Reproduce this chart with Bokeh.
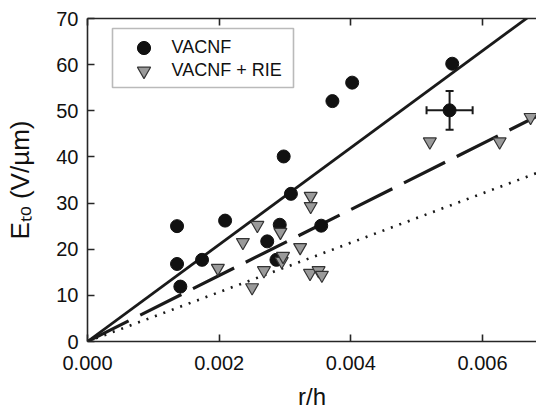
import numpy as np
from bokeh.plotting import figure
from bokeh.models import (Range1d, LinearAxis, FixedTicker, Legend, LegendItem,
                          ColumnDataSource, Whisker, TeeHead, BoxAnnotation)
from bokeh.embed import file_html
from bokeh.resources import INLINE

# ---- data ----
vacnf_x = [0.00136, 0.00136, 0.00141, 0.00174, 0.00209, 0.00273, 0.00287, 0.00292,
           0.00298, 0.00309, 0.00355, 0.00372, 0.00402, 0.00554, 0.00550]
vacnf_y = [25.0, 16.8, 11.9, 17.7, 26.2, 21.7, 17.7, 25.3,
           40.1, 32.0, 25.1, 52.1, 56.1, 60.2, 50.1]

rie_x = [0.00198, 0.00236, 0.00250, 0.00258, 0.00268, 0.00293, 0.00295, 0.00297,
         0.00323, 0.00339, 0.00339, 0.00338, 0.00351, 0.00356, 0.00520, 0.00626, 0.00673]
rie_y = [15.9, 21.5, 11.7, 25.2, 15.4, 23.7, 17.4, 18.5,
         20.4, 31.5, 29.3, 14.8, 15.4, 14.4, 43.3, 43.3, 48.6]

err_x = [0.00550]
err_y = [50.1]
err_dx = [0.00035]
err_dy = [4.2]

fit_names = ["VACNF fit", "VACNF + RIE fit", "lower bound"]
fit_slopes = [10500.0, 7150.0, 5350.0]

series_names = ["VACNF", "VACNF + RIE"]

x_ticks = [0.0, 0.002, 0.004, 0.006]
x_tick_labels = ["0.000", "0.002", "0.004", "0.006"]
y_ticks = [0, 10, 20, 30, 40, 50, 60, 70]

x_title = "r/h"
y_title = "E\u209c\u2092 (V/\u00b5m)"

XMAX = 0.00682
YMAX = 70
FONT = "Liberation Sans"

# frame geometry in pixels (used only to place the legend frame)
FL, FR, FT, FB = 87, 536, 18, 341


def px2x(px):
    return XMAX * (px - FL) / (FR - FL)


def py2y(py):
    return YMAX * (FB - py) / (FB - FT)


p = figure(width=536, height=412, output_backend="svg", toolbar_location=None,
           x_range=Range1d(0, XMAX), y_range=Range1d(0, YMAX),
           min_border_left=FL, min_border_right=0, min_border_top=FT,
           min_border_bottom=412 - FB, x_axis_location=None, y_axis_location=None)
p.outline_line_color = None
p.xgrid.visible = False
p.ygrid.visible = False
p.background_fill_color = "white"
p.border_fill_color = "white"

AX_COL = "#262626"


def style_axis(ax, show_labels=True):
    ax.axis_line_color = AX_COL
    ax.axis_line_width = 1.6
    ax.major_tick_line_color = AX_COL
    ax.major_tick_line_width = 1.6
    ax.major_tick_in = 7
    ax.major_tick_out = 0
    ax.minor_tick_line_color = None
    ax.major_label_text_font = FONT
    ax.major_label_text_color = "#111111"
    ax.major_label_text_line_height = 1.0
    ax.axis_label_text_font = FONT
    ax.axis_label_text_font_style = "normal"
    ax.axis_label_text_color = "#111111"
    ax.axis_label_text_line_height = 1.0
    if show_labels:
        ax.major_label_text_font_size = "20px"
    else:
        ax.major_label_text_font_size = "0px"
        ax.major_label_text_color = None
        ax.major_label_standoff = 0


xb = LinearAxis(ticker=FixedTicker(ticks=x_ticks))
xb.major_label_overrides = {t: l for t, l in zip(x_ticks, x_tick_labels)}
style_axis(xb)
xb.major_label_standoff = 14
xb.axis_label = x_title
xb.axis_label_text_font_size = "24px"
xb.axis_label_standoff = 10
p.add_layout(xb, "below")

xt = LinearAxis(ticker=FixedTicker(ticks=x_ticks))
style_axis(xt, show_labels=False)
p.add_layout(xt, "above")

yl = LinearAxis(ticker=FixedTicker(ticks=y_ticks))
style_axis(yl)
yl.major_label_standoff = 9
yl.axis_label = y_title
yl.axis_label_text_font_size = "26px"
yl.axis_label_standoff = 18
p.add_layout(yl, "left")

# fit lines
line_styles = [("solid", 2.8), ("46 13", 3.2), ("2 7", 2.6)]
for name, slope, (dash, lw) in zip(fit_names, fit_slopes, line_styles):
    xs = np.array([0.0, XMAX])
    ys = slope * xs
    p.line(xs, ys, line_color="#1a1a1a", line_width=lw, line_dash=dash)

# error bars
src_v = ColumnDataSource(dict(base=err_x,
                              lower=[y - d for y, d in zip(err_y, err_dy)],
                              upper=[y + d for y, d in zip(err_y, err_dy)]))
src_h = ColumnDataSource(dict(base=err_y,
                              lower=[x - d for x, d in zip(err_x, err_dx)],
                              upper=[x + d for x, d in zip(err_x, err_dx)]))
for src, dim in [(src_v, "height"), (src_h, "width")]:
    w = Whisker(source=src, base="base", lower="lower", upper="upper", dimension=dim,
                line_color="#1a1a1a", line_width=2,
                upper_head=TeeHead(size=8, line_width=2, line_color="#1a1a1a"),
                lower_head=TeeHead(size=8, line_width=2, line_color="#1a1a1a"))
    p.add_layout(w)

# markers
r_c = p.scatter(vacnf_x, vacnf_y, marker="circle", size=13,
                fill_color="#111111", line_color="#111111", line_width=1)
r_t = p.scatter(rie_x, rie_y, marker="inverted_triangle", size=13,
                fill_color="#9a9a9a", line_color="#333333", line_width=1.2)

# legend frame
box = BoxAnnotation(left=px2x(112), right=px2x(293), top=py2y(28), bottom=py2y(87),
                    fill_color="white", fill_alpha=1.0,
                    line_color="#1a1a1a", line_width=1.6)
p.add_layout(box)

# legend rows (one Legend per row so the rows can sit close together)
row_centers = [47, 70]
for name, rend, yc in zip(series_names, [r_c, r_t], row_centers):
    lg = Legend(items=[LegendItem(label=name, renderers=[rend])],
                location=(126.5 - FL, FB - (yc + 16.5)))
    lg.label_text_font = FONT
    lg.label_text_font_size = "18px"
    lg.label_text_color = "#111111"
    lg.border_line_color = None
    lg.background_fill_color = None
    lg.padding = 0
    lg.spacing = 0
    lg.margin = 0
    lg.glyph_width = 33
    lg.glyph_height = 33
    lg.label_height = 20
    lg.label_standoff = 12
    p.add_layout(lg, "center")

open("out.html", "w").write(file_html(p, INLINE))
